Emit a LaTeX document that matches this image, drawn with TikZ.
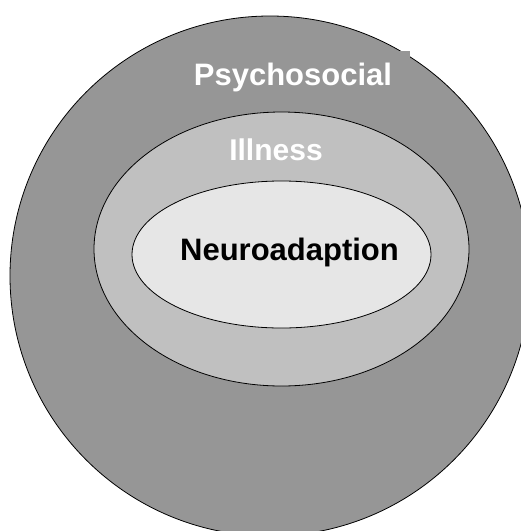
\documentclass[tikz,border=0pt]{standalone}
\usepackage{fontspec}
\setmainfont{Liberation Sans}
\usetikzlibrary{shapes.geometric}
\definecolor{outergray}{HTML}{969696}
\definecolor{midgray}{HTML}{C0C0C0}
\definecolor{innergray}{HTML}{E6E6E6}

\begin{document}
\begin{tikzpicture}[x=1pt,y=-1pt,
  ring/.style={draw=black,line width=0.8pt,inner sep=0pt},
  tag/.style={font=\fontsize{31}{37}\selectfont\bfseries,inner sep=0pt,anchor=base}]
\clip (0,0) rectangle (521,531);
\node[ring,circle,fill=outergray,minimum size=520pt] (psycho-ring) at (270,276) {};
\node[ring,ellipse,fill=midgray,minimum width=375pt,minimum height=274pt] (ill-ring) at (281.5,249) {};
\node[ring,ellipse,fill=innergray,minimum width=299pt,minimum height=147pt] (neuro-ring) at (281.5,254.5) {};
\node[tag,text=white,fill=outergray,inner xsep=18pt,inner ysep=11.8pt] (psycho-label) at (293,85) {Psychosocial};
\node[tag,text=white,font=\fontsize{30}{36}\selectfont\bfseries] (ill-label) at (276,160) {Illness};
\node[tag,text=black] (neuro-label) at (289.5,260) {Neuroadaption};
\end{tikzpicture}
\end{document}
